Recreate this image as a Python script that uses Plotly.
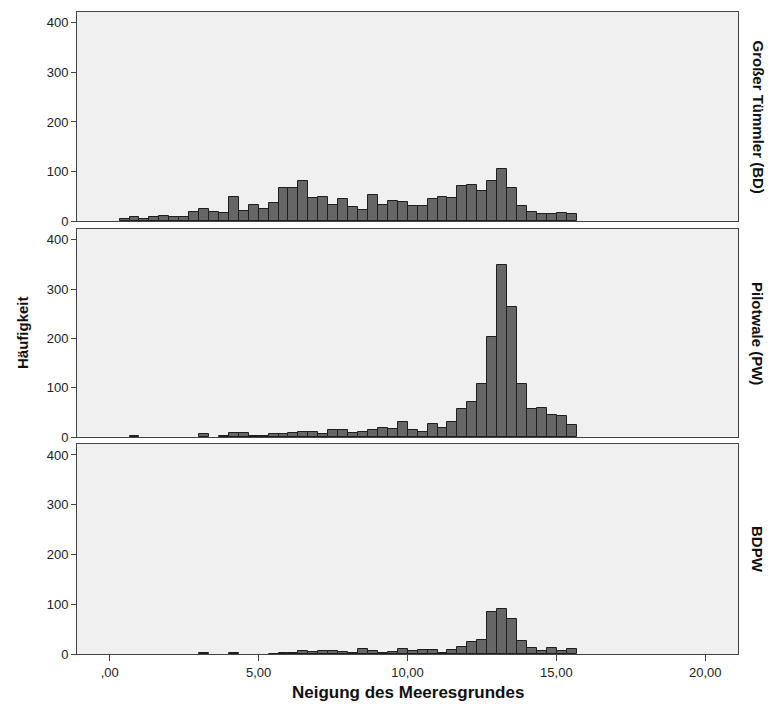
import plotly.graph_objects as go

# Histogram bins (shared by all panels)
bin_start = 0.33
bin_width = 0.3337
n_bins = 46

panel_labels = ["Großer Tümmler (BD)", "Pilotwale (PW)", "BDPW"]

counts_bd = [5, 8, 5, 8, 11, 8, 8, 19, 25, 19, 17, 49, 21, 33, 25, 36, 66, 66, 80, 47,
             49, 33, 45, 28, 22, 52, 32, 40, 38, 30, 30, 44, 49, 46, 71, 73, 61, 80, 104, 67,
             31, 19, 14, 14, 17, 15]
counts_pw = [0, 3, 0, 0, 0, 0, 0, 0, 6, 0, 3, 9, 9, 3, 3, 6, 6, 9, 11, 11,
             6, 14, 15, 9, 11, 14, 19, 17, 30, 14, 11, 27, 19, 31, 56, 72, 107, 203, 349, 264,
             108, 57, 58, 45, 42, 25]
counts_bdpw = [0, 0, 0, 0, 0, 0, 0, 0, 2, 0, 0, 2, 0, 0, 0, 1, 2, 3, 6, 5,
               7, 6, 5, 2, 11, 6, 3, 5, 10, 7, 9, 9, 3, 9, 15, 24, 29, 85, 91, 70,
               27, 13, 7, 12, 7, 11]

x_tickvals = [0, 5, 10, 15, 20]
x_ticktext = [",00", "5,00", "10,00", "15,00", "20,00"]
y_tickvals = [0, 100, 200, 300, 400]

centers = [bin_start + bin_width * (i + 0.5) for i in range(n_bins)]

W, H = 768, 715
mt, mb, ml, mr = 12, 61, 77, 30
ph = H - mt - mb

def dom(top_px, bot_px):
    return [1 - (bot_px - mt) / ph, 1 - (top_px - mt) / ph]

domains = [dom(12, 221), dom(229, 437), dom(444, 654)]

fig = go.Figure()
series = [counts_bd, counts_pw, counts_bdpw]
font = "Liberation Sans, Arial, sans-serif"

for i, cnt in enumerate(series):
    ax = "" if i == 0 else str(i + 1)
    yvals = [c if c > 0 else None for c in cnt]
    fig.add_trace(go.Bar(
        x=centers, y=yvals, width=bin_width,
        marker=dict(color="#666666", line=dict(color="#1e1e1e", width=1)),
        xaxis="x" + ax, yaxis="y" + ax, showlegend=False,
    ))
    xa = dict(
        domain=[0, 1], range=[-1.1, 21.1], anchor="y" + ax,
        showgrid=False, zeroline=False, showline=True, linecolor="#444444",
        linewidth=1, mirror=True,
        tickvals=x_tickvals, ticktext=x_ticktext,
        ticks="outside" if i == 2 else "", ticklen=6, tickcolor="#444444",
        showticklabels=(i == 2),
        tickfont=dict(family=font, size=13, color="#222222"),
    )
    if i > 0:
        xa["matches"] = "x"
    ya = dict(
        domain=domains[i], range=[0, 422], anchor="x" + ax,
        showgrid=False, zeroline=False, showline=True, linecolor="#444444",
        linewidth=1, mirror=True,
        tickvals=y_tickvals, ticks="outside", ticklen=5, tickcolor="#444444",
        tickfont=dict(family=font, size=13, color="#222222"),
    )
    fig.update_layout(**{"xaxis" + ax: xa, "yaxis" + ax: ya})
    fig.add_annotation(
        text="<b>" + panel_labels[i] + "</b>", textangle=90,
        xref="paper", yref="paper", x=1.0, xshift=20, xanchor="center",
        y=(domains[i][0] + domains[i][1]) / 2, yanchor="middle",
        showarrow=False, font=dict(family=font, size=15, color="#111111"),
    )

fig.add_annotation(
    text="<b>Häufigkeit</b>", textangle=-90, xref="paper", yref="paper",
    x=0, xshift=-55, y=0.5, xanchor="center", yanchor="middle", showarrow=False,
    font=dict(family=font, size=15, color="#111111"),
)
fig.add_annotation(
    text="<b>Neigung des Meeresgrundes</b>", xref="paper", yref="paper",
    x=0.5, y=0, yshift=-27, xanchor="center", yanchor="top", showarrow=False,
    font=dict(family=font, size=17, color="#111111"),
)

fig.update_layout(
    width=W, height=H, margin=dict(l=ml, r=mr, t=mt, b=mb),
    paper_bgcolor="white", plot_bgcolor="#F0F0F0", bargap=0,
)

fig.write_html("out.html")
